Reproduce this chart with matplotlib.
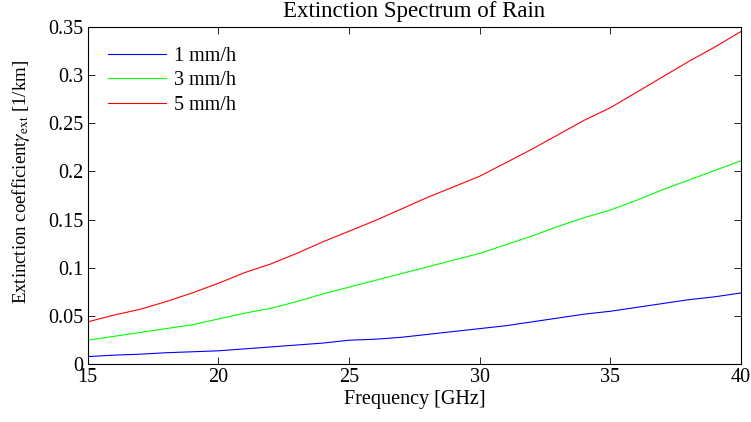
import numpy as np
import matplotlib
matplotlib.use('Agg')
import matplotlib.pyplot as plt

plt.rcParams['font.family'] = ['Liberation Serif', 'DejaVu Serif']
plt.rcParams['mathtext.fontset'] = 'stix'

# frequency [GHz] and extinction coefficient [1/km]
freq = [15, 16, 17, 18, 19, 20, 21, 22, 23, 24, 25, 26, 27,
        28, 29, 30, 31, 32, 33, 34, 35, 36, 37, 38, 39, 40]
rain_1mm = [0.008, 0.0095, 0.0105, 0.012, 0.013, 0.014, 0.016, 0.018, 0.020,
            0.022, 0.025, 0.026, 0.028, 0.031, 0.034, 0.037, 0.040, 0.044,
            0.048, 0.052, 0.055, 0.059, 0.063, 0.067, 0.070, 0.074]
rain_3mm = [0.025, 0.029, 0.033, 0.037, 0.041, 0.047, 0.053, 0.058, 0.065,
            0.073, 0.080, 0.087, 0.094, 0.101, 0.108, 0.115, 0.124, 0.133,
            0.143, 0.152, 0.160, 0.170, 0.181, 0.191, 0.201, 0.211]
rain_5mm = [0.044, 0.051, 0.057, 0.065, 0.074, 0.084, 0.095, 0.104, 0.115,
            0.127, 0.138, 0.149, 0.161, 0.173, 0.184, 0.195, 0.209, 0.223,
            0.238, 0.253, 0.266, 0.282, 0.298, 0.314, 0.329, 0.345]
labels = ['1 mm/h', '3 mm/h', '5 mm/h']

yticks = [0, 0.05, 0.1, 0.15, 0.2, 0.25, 0.3, 0.35]
ytick_labels = ['0', '0.05', '0.1', '0.15', '0.2', '0.25', '0.3', '0.35']
xticks = [15, 20, 25, 30, 35, 40]

fs = 14.5

fig = plt.figure(figsize=(7.51, 4.22), dpi=100)
ax = fig.add_axes([0.1168, 0.1367, 0.8699, 0.8])

ax.plot(freq, rain_1mm, color=(0, 0, 1), lw=0.8, label=labels[0])
ax.plot(freq, rain_3mm, color=(0, 1, 0), lw=0.8, label=labels[1])
ax.plot(freq, rain_5mm, color=(1, 0, 0), lw=0.8, label=labels[2])

ax.set_xlim(15, 40)
ax.set_ylim(0, 0.35)
ax.set_xticks(xticks)
ax.set_yticks(yticks)
ax.set_yticklabels(ytick_labels)
ax.tick_params(direction='in', top=True, right=True, length=5, width=0.6,
               labelsize=fs, pad=3)
for s in ax.spines.values():
    s.set_linewidth(0.8)

ax.set_xlabel('Frequency [GHz]', fontsize=fs, labelpad=2)
ax.set_ylabel(r'Extinction coefficient$\gamma_{\rm ext}$ [1/km]', fontsize=13.5)
ax.yaxis.set_label_coords(-0.086, 0.54)
ax.set_title('Extinction Spectrum of Rain', fontsize=16.5, pad=7)

ax.legend(loc='upper left', frameon=False, fontsize=fs, handlelength=2.9,
          handletextpad=0.4, labelspacing=0.26, borderaxespad=0.6)

fig.savefig('out.png', dpi=100)
